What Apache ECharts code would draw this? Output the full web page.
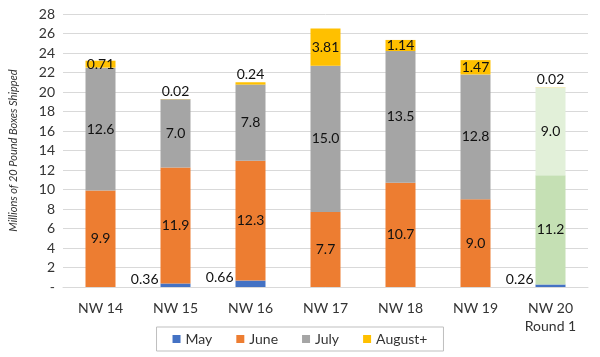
<!DOCTYPE html>
<html><head><meta charset="utf-8">
<script src="https://cdn.jsdelivr.net/npm/echarts@6/dist/echarts.min.js"></script>
<style>html,body{margin:0;padding:0;background:#fff}#c{width:600px;height:357px}</style>
</head><body><div id="c"></div>
<script>
const categories = ['NW 14','NW 15','NW 16','NW 17','NW 18','NW 19','NW 20\nRound 1'];
const may = [0, 0.36, 0.66, 0, 0, 0, 0.26];
const june = [9.9, 11.9, 12.3, 7.7, 10.7, 9.0, 11.2];
const july = [12.6, 7.0, 7.8, 15.0, 13.5, 12.8, 9.0];
const august = [0.71, 0.02, 0.24, 3.81, 1.14, 1.47, 0.02];
const seriesNames = ['May','June','July','August+'];
const yTicks = {min:0, max:28, interval:2};

const FONT = 'Lato';
const colors = ['#4472C4','#ED7D31','#A5A5A5','#FFC000'];
const forecastColors = {1:'#C5E0B4', 2:'#E2F0D9'};
const lastIdx = categories.length - 1;

function mk(vals, si, decimals){
  return vals.map((v,i)=>{
    const d = {value:v};
    const style = {};
    if(i===lastIdx && forecastColors[si]) style.color = forecastColors[si];
    d.itemStyle = style;
    const lab = {show: v>0, formatter: v.toFixed(decimals)};
    if(si===0){ lab.position='left'; lab.distance=2; lab.offset=[0,-6]; }
    if(si===3 && v<0.5){ lab.position='top'; lab.distance=1; }
    d.label = lab;
    return d;
  });
}
const all = [may, june, july, august];
const dec = [2,1,1,2];
const chart = echarts.init(document.getElementById('c'), null, {renderer:'canvas'});
chart.setOption({
  animation:false,
  textStyle:{fontFamily:FONT},
  grid:{left:62, right:12, top:14, bottom:70},
  legend:{
    data:seriesNames, bottom:6, left:'center',
    itemWidth:8, itemHeight:8, itemGap:24, icon:'rect',
    borderColor:'#BFBFBF', borderWidth:1, padding:[5,16,5,16],
    textStyle:{fontFamily:FONT, fontSize:14, color:'#333'}
  },
  xAxis:{
    type:'category', data:categories,
    axisTick:{show:false},
    axisLine:{lineStyle:{color:'#D9D9D9'}},
    axisLabel:{fontFamily:FONT, fontSize:14, color:'#333', margin:12, lineHeight:18}
  },
  yAxis:{
    type:'value', min:yTicks.min, max:yTicks.max, interval:yTicks.interval,
    name:'Millions of 20 Pound Boxes Shipped', nameLocation:'middle', nameGap:44,
    nameTextStyle:{fontFamily:FONT, fontSize:11, fontStyle:'italic', color:'#333'},
    axisLabel:{fontFamily:FONT, fontSize:14, color:'#333', formatter:v=>v===0?'-':String(v)},
    splitLine:{lineStyle:{color:'#D9D9D9'}},
    axisLine:{show:false}, axisTick:{show:false}
  },
  series: all.map((vals,si)=>({
    name:seriesNames[si], type:'bar', stack:'t', barWidth:'40%',
    itemStyle:{color:colors[si]},
    label:{show:true, position:'inside', fontFamily:FONT, fontSize:14, color:'#111'},
    data:mk(vals, si, dec[si])
  }))
});
</script></body></html>
